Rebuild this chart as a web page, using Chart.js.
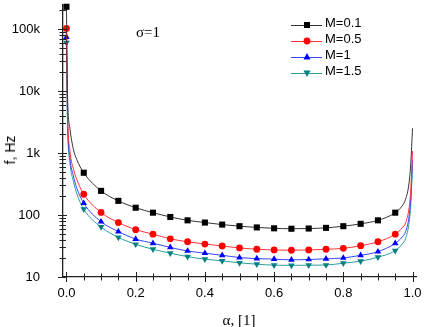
<!DOCTYPE html>
<html>
<head>
<meta charset="utf-8">
<script src="https://cdn.jsdelivr.net/npm/chart.js@4.4.0/dist/chart.umd.min.js"></script>
<style>
  html, body { margin: 0; padding: 0; background: #fff; }
  #wrap { position: relative; width: 424px; height: 327px; overflow: hidden; }
  #chart { position: absolute; left: 0; top: 0; }
  .txt { position: absolute; white-space: nowrap; color: #000; }
  .sans { font-family: "Liberation Sans", Arial, sans-serif; }
  .serif { font-family: "Liberation Serif", "Times New Roman", serif; }
  #ytitle { left: 10px; top: 150px; font-size: 14px; transform: translate(-50%, -50%) rotate(-90deg); }
  #xtitle { left: 239px; top: 320px; font-size: 15px; transform: translate(-50%, -50%); }
  #sigma { left: 136px; top: 24px; font-size: 15px; }
  .legsvg { position: absolute; left: 290px; }
  .legtxt { position: absolute; left: 325px; font-size: 13px; line-height: 16px; }
</style>
</head>
<body>
<div id="wrap">
  <canvas id="chart" width="424" height="327"></canvas>
  <div class="txt sans" id="ytitle">f, Hz</div>
  <div class="txt serif" id="xtitle">α, [1]</div>
  <div class="txt serif" id="sigma">σ=1</div>
  <div id="legend"></div>
</div>
<script>
// alpha positions (markers every 0.05, extra points only shape the curve near the ends)
const alpha = [0, 0.003, 0.01, 0.02, 0.03, 0.05, 0.1, 0.15, 0.2, 0.25, 0.3, 0.35, 0.4, 0.45, 0.5,
  0.55, 0.6, 0.65, 0.7, 0.75, 0.8, 0.85, 0.9, 0.95, 0.97, 0.98, 0.99, 0.995, 1.0];

const seriesLabels = ['M=0.1', 'M=0.5', 'M=1', 'M=1.5'];

const fM01 = [228000, 9000, 2500, 1150, 780, 480, 245, 169, 131, 109, 93, 82, 75.5, 70, 66,
  63, 61, 60, 60.5, 62, 66, 72, 82, 109, 140, 180, 330, 700, 2500];
const fM05 = [102000, 5000, 1100, 560, 370, 216, 110, 75.5, 58, 49, 41.3, 37, 34, 31.6, 29.4,
  28, 27.3, 27, 27.3, 28, 29, 32, 37, 49, 62, 75, 130, 260, 1080];
const fM1 = [74000, 3800, 850, 430, 270, 155, 78, 54, 41, 35, 30, 26.3, 24.2, 22.4, 20.6,
  19.8, 19.4, 18.9, 19.2, 19.6, 20.3, 22.4, 25.6, 35, 44, 54, 95, 190, 790];
const fM15 = [60000, 3100, 700, 350, 220, 124, 64, 43.5, 33.7, 28, 24.2, 21.3, 19.4, 18.2, 16.9,
  16.1, 15.5, 15.4, 15.5, 15.6, 16.7, 18, 20.9, 26.6, 34, 42, 75, 150, 650];

const yDecades = [10, 100, 1000, 10000, 100000];
const yDecadeLabels = ['10', '100', '1k', '10k', '100k'];
const xMajor = [0, 0.2, 0.4, 0.6, 0.8, 1.0];
const xMajorLabels = ['0.0', '0.2', '0.4', '0.6', '0.8', '1.0'];

const seriesValues = [fM01, fM05, fM1, fM15];
const lineColors = ['#333333', '#ff3333', '#3344ff', '#2a9d9d'];
const markerColors = ['#000000', '#ff0000', '#0000ff', '#008080'];
const pointStyles = ['rect', 'circle', 'triangle', 'triangle'];
const pointRotations = [0, 0, 0, 180];
const pointRadii = [4.3, 3.4, 3.8, 3.8];

const Y_MAX = 250000;
const FONT = '"Liberation Sans", Arial, sans-serif';

function isMarked(a) {
  const k = Math.round(a * 100);
  return Math.abs(a * 100 - k) < 1e-6 && k % 5 === 0 && k < 100;
}

// minor + major tick positions
const yTicks = [];
yDecades.forEach(d => {
  for (let k = 1; k <= 9; k++) if (d * k <= Y_MAX) yTicks.push(d * k);
});
const xTicks = [];
for (let k = 0; k <= 20; k++) xTicks.push(Math.round(k * 5) / 100);

// tick marks that cross the axis lines
const crossTicks = {
  id: 'crossTicks',
  afterDraw(chart) {
    const { ctx, chartArea } = chart;
    const xs = chart.scales.x, ys = chart.scales.y;
    ctx.save();
    ctx.strokeStyle = '#222';
    ctx.lineWidth = 1;
    ctx.beginPath();
    yTicks.forEach(v => {
      const py = Math.round(ys.getPixelForValue(v)) + 0.5;
      const major = yDecades.includes(v);
      ctx.moveTo(chartArea.left - (major ? 5 : 3.5), py);
      ctx.lineTo(chartArea.left + (major ? 4 : 3), py);
    });
    xTicks.forEach(v => {
      const px = Math.round(xs.getPixelForValue(v)) + 0.5;
      const major = xMajor.some(m => Math.abs(m - v) < 1e-6);
      ctx.moveTo(px, chartArea.bottom - (major ? 5 : 3.5));
      ctx.lineTo(px, chartArea.bottom + (major ? 5 : 3.5));
    });
    ctx.stroke();
    ctx.restore();
  }
};

new Chart(document.getElementById('chart'), {
  type: 'line',
  data: {
    datasets: seriesLabels.map((label, i) => ({
      label: label,
      data: alpha.map((a, j) => ({ x: a, y: seriesValues[i][j] })),
      borderColor: lineColors[i],
      borderWidth: 1,
      backgroundColor: markerColors[i],
      pointBackgroundColor: markerColors[i],
      pointBorderColor: markerColors[i],
      pointBorderWidth: 0,
      pointStyle: pointStyles[i],
      pointRotation: pointRotations[i],
      pointRadius: ctx => isMarked(alpha[ctx.dataIndex]) ? pointRadii[i] : 0,
      pointHoverRadius: 0,
      cubicInterpolationMode: 'monotone',
      fill: false,
      clip: false
    }))
  },
  options: {
    responsive: false,
    animation: false,
    layout: { padding: { top: 2, right: 8, left: 0, bottom: 0 } },
    plugins: { legend: { display: false }, tooltip: { enabled: false } },
    scales: {
      x: {
        type: 'linear',
        min: -0.01,
        max: 1.01,
        afterBuildTicks: s => { s.ticks = xTicks.map(v => ({ value: v })); },
        afterFit: s => { s.height = 50; s.paddingLeft = 0; s.paddingRight = 0; },
        grid: { display: false },
        border: { display: true, color: '#222', width: 1.3 },
        ticks: {
          autoSkip: false,
          maxRotation: 0,
          padding: 1,
          color: '#000',
          font: { family: FONT, size: 13 },
          callback: v => {
            const i = xMajor.findIndex(m => Math.abs(m - v) < 1e-6);
            return i >= 0 ? xMajorLabels[i] : '';
          }
        }
      },
      y: {
        type: 'logarithmic',
        min: 10,
        max: Y_MAX,
        afterBuildTicks: s => { s.ticks = yTicks.map(v => ({ value: v })); },
        afterFit: s => { s.width = 63; s.paddingTop = 0; s.paddingBottom = 0; },
        grid: { display: false },
        border: { display: true, color: '#222', width: 1.3 },
        ticks: {
          autoSkip: false,
          padding: 15,
          color: '#000',
          font: { family: FONT, size: 13 },
          callback: v => {
            const i = yDecades.indexOf(v);
            return i >= 0 ? yDecadeLabels[i] : '';
          }
        }
      }
    }
  },
  plugins: [crossTicks]
});

// legend inside the plot, top right
const legend = document.getElementById('legend');
seriesLabels.forEach((name, i) => {
  const cy = 23.3 + i * 16;
  const c = markerColors[i];
  let mark;
  if (i === 0) mark = `<rect x="14" y="3" width="6" height="6" fill="${c}"/>`;
  else if (i === 1) mark = `<circle cx="17" cy="6" r="3.4" fill="${c}"/>`;
  else if (i === 2) mark = `<polygon points="17,2 20.5,8.5 13.5,8.5" fill="${c}"/>`;
  else mark = `<polygon points="17,10 20.5,3.5 13.5,3.5" fill="${c}"/>`;
  const svg = document.createElement('div');
  svg.className = 'legsvg';
  svg.style.top = (cy - 6) + 'px';
  svg.innerHTML = `<svg width="34" height="12"><line x1="1" y1="6.5" x2="32" y2="6.5" stroke="${lineColors[i]}" stroke-width="1"/>${mark}</svg>`;
  legend.appendChild(svg);
  const t = document.createElement('div');
  t.className = 'txt sans legtxt';
  t.style.top = (cy - 8) + 'px';
  t.textContent = name;
  legend.appendChild(t);
});
</script>
</body>
</html>
